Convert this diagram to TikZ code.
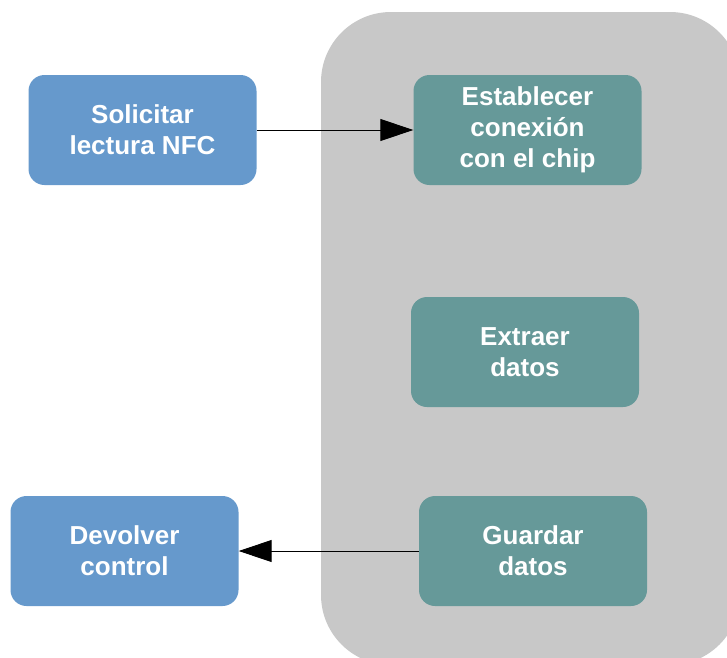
\documentclass[tikz,border=0pt]{standalone}
\usepackage{fontspec}
\setmainfont{Liberation Sans}
\usetikzlibrary{arrows.meta}
\definecolor{boxblue}{RGB}{102,153,204}
\definecolor{boxteal}{RGB}{102,153,153}
\definecolor{panelgray}{RGB}{200,200,200}
\tikzset{
  procbox/.style={rounded corners=16pt, inner sep=0pt, minimum width=228pt, minimum height=110pt,
    text=white, align=center, font=\fontsize{26pt}{31pt}\selectfont\bfseries},
  bluebox/.style={procbox, fill=boxblue},
  tealbox/.style={procbox, fill=boxteal},
  flow/.style={line width=1pt, draw=black, -{Triangle[length=33pt,width=22pt]}}
}
\begin{document}
\begin{tikzpicture}[x=1pt,y=-1pt]
\useasboundingbox (0,0) rectangle (727,657);
\begin{scope}
\clip (0,0) rectangle (727,657);
\fill[panelgray, rounded corners=70pt] (321,12) rectangle (740,665);
\end{scope}
\node[bluebox] (sol) at (142.5,130) {Solicitar\\lectura NFC};
\node[tealbox] (est) at (527.5,130) {Establecer\\conexión\\con el chip};
\node[tealbox] (ext) at (525,352) {Extraer\\datos};
\node[tealbox] (gua) at (533,551) {Guardar\\datos};
\node[bluebox] (dev) at (124.5,551) {Devolver\\control};
\draw[flow] (sol) -- (est);
\draw[flow] (gua) -- (dev);
\end{tikzpicture}
\end{document}
